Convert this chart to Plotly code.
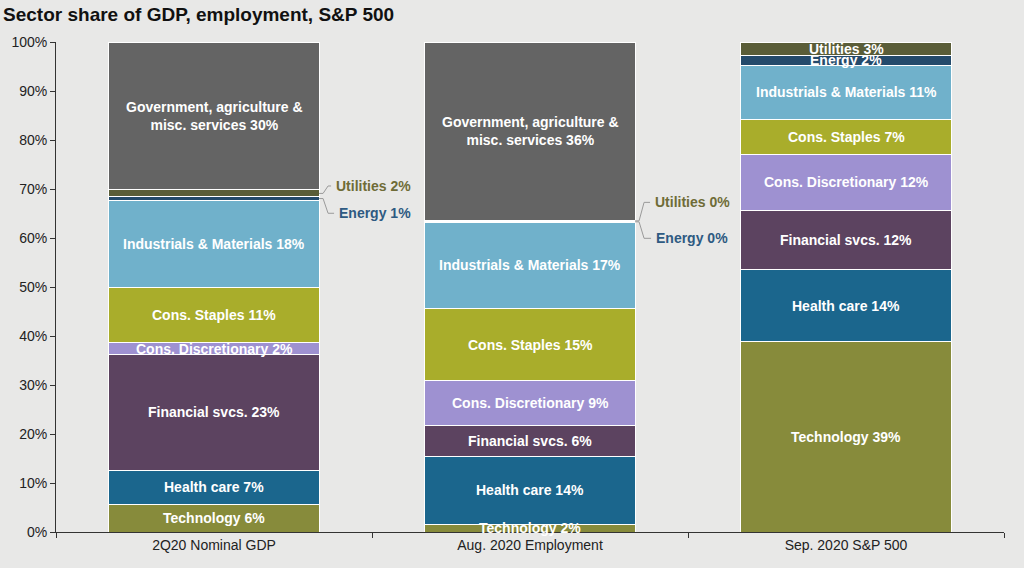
import plotly.graph_objects as go

# ---------------- data ----------------
categories = ["2Q20 Nominal GDP", "Aug. 2020 Employment", "Sep. 2020 S&P 500"]

sector_names = [
    "Technology", "Health care", "Financial svcs.", "Cons. Discretionary",
    "Cons. Staples", "Industrials & Materials", "Energy", "Utilities",
    "Government, agriculture &<br>misc. services",
]

# segment heights (% share)
technology = [5.7, 1.6, 38.8]
health_care = [6.9, 13.9, 14.7]
financial = [23.7, 6.2, 12.1]
cons_disc = [2.3, 9.2, 11.5]
cons_staples = [11.3, 14.7, 7.1]
industrials = [17.8, 17.6, 11.1]
energy = [0.7, 0.2, 1.9]
utilities = [1.4, 0.2, 2.8]
government = [30.2, 36.4, 0.0]

# printed (rounded) percentages in the labels
technology_lbl = [6, 2, 39]
health_care_lbl = [7, 14, 14]
financial_lbl = [23, 6, 12]
cons_disc_lbl = [2, 9, 12]
cons_staples_lbl = [11, 15, 7]
industrials_lbl = [18, 17, 11]
energy_lbl = [1, 0, 2]
utilities_lbl = [2, 0, 3]
government_lbl = [30, 36, None]

y_ticks = [0, 10, 20, 30, 40, 50, 60, 70, 80, 90, 100]

# ---------------- styling ----------------
colors = ["#878B3B", "#1B668D", "#5C4360", "#9E91D1", "#A9AD2B",
          "#70B1CB", "#244A6B", "#5A5D38", "#646464"]
series = [technology, health_care, financial, cons_disc, cons_staples,
          industrials, energy, utilities, government]
labels = [technology_lbl, health_care_lbl, financial_lbl, cons_disc_lbl,
          cons_staples_lbl, industrials_lbl, energy_lbl, utilities_lbl,
          government_lbl]

BG = "#E8E8E7"
FONT = "Liberation Sans, Arial, sans-serif"
BAR_W = 0.665
W, H = 1024, 568
M_L, M_R, M_T, M_B = 56, 20, 42, 36
PX_X = (W - M_L - M_R) / 3.0      # px per category unit
PX_Y = (H - M_T - M_B) / 100.0    # px per percent

fig = go.Figure()
for name, vals, col in zip(sector_names, series, colors):
    fig.add_trace(go.Bar(
        x=categories, y=vals, name=name.replace("<br>", " "),
        marker=dict(color=col, line=dict(color="white", width=1)),
        width=BAR_W, hoverinfo="skip",
    ))

annotations = []
shapes = []
outside = {(0, 6), (0, 7), (1, 6), (1, 7)}  # (bar, series) called out
callout_color = {6: "#2E5A82", 7: "#6F6C37"}
# label offset (px, +up) of the callout relative to segment edge
callout_dy = {(0, 7): 4, (0, 6): -13, (1, 7): 18, (1, 6): -16}
callout_dx = {(0, 7): 15, (0, 6): 18, (1, 7): 18, (1, 6): 19}

for b in range(3):
    base = 0.0
    for s, vals in enumerate(series):
        v = vals[b]
        lbl = labels[s][b]
        if v <= 0 or lbl is None:
            base += v
            continue
        mid = base + v / 2.0
        text = f"{sector_names[s]} {lbl}%"
        if (b, s) in outside:
            edge = b + BAR_W / 2.0
            if s == 7:
                ly = base + v + callout_dy[(b, s)] / PX_Y
            else:
                ly = base + callout_dy[(b, s)] / PX_Y
            pts = [(edge, mid), (edge + 4 / PX_X, mid),
                   (edge + 9 / PX_X, ly), (edge + (callout_dx[(b, s)] - 3) / PX_X, ly)]
            for (x0, y0), (x1, y1) in zip(pts[:-1], pts[1:]):
                shapes.append(dict(type="line", xref="x", yref="y",
                                   x0=x0, y0=y0, x1=x1, y1=y1,
                                   line=dict(color="#9A9A9A", width=1)))
            annotations.append(dict(
                x=edge + callout_dx[(b, s)] / PX_X, y=ly, xref="x", yref="y",
                text=f"<b>{sector_names[s]} {lbl}%</b>", showarrow=False,
                xanchor="left", yanchor="middle",
                font=dict(family=FONT, size=14, color=callout_color[s])))
        else:
            annotations.append(dict(
                x=b, y=mid, xref="x", yref="y", text=f"<b>{text}</b>",
                showarrow=False, xanchor="center", yanchor="middle",
                font=dict(family=FONT, size=14, color="white")))
        base += v

fig.update_layout(
    width=W, height=H,
    margin=dict(l=M_L, r=M_R, t=M_T, b=M_B),
    paper_bgcolor=BG, plot_bgcolor=BG,
    barmode="stack", showlegend=False,
    title=dict(text="<b>Sector share of GDP, employment, S&P 500</b>",
               x=0.003, xref="container", xanchor="left",
               y=1 - 14 / H, yref="container", yanchor="middle",
               font=dict(family=FONT, size=19, color="#111111")),
    xaxis=dict(type="category", range=[-0.5, 2.5], showline=True,
               linecolor="#333333", linewidth=1, ticks="outside",
               tickson="boundaries", ticklen=5, tickcolor="#333333",
               showgrid=False, zeroline=False,
               tickfont=dict(family=FONT, size=14, color="#222222")),
    yaxis=dict(range=[0, 100], tickvals=y_ticks,
               ticktext=[f"{t}%" for t in y_ticks], showline=True,
               linecolor="#333333", linewidth=1, ticks="outside",
               ticklen=5, tickcolor="#333333", showgrid=False,
               zeroline=False,
               tickfont=dict(family=FONT, size=14, color="#222222")),
    annotations=annotations, shapes=shapes,
)

fig.write_html(
    "out.html",
    config={"displayModeBar": False},
    post_script="document.body.style.margin='0px';"
                "document.body.style.overflow='hidden';"
                "document.body.style.background='" + BG + "';",
)
